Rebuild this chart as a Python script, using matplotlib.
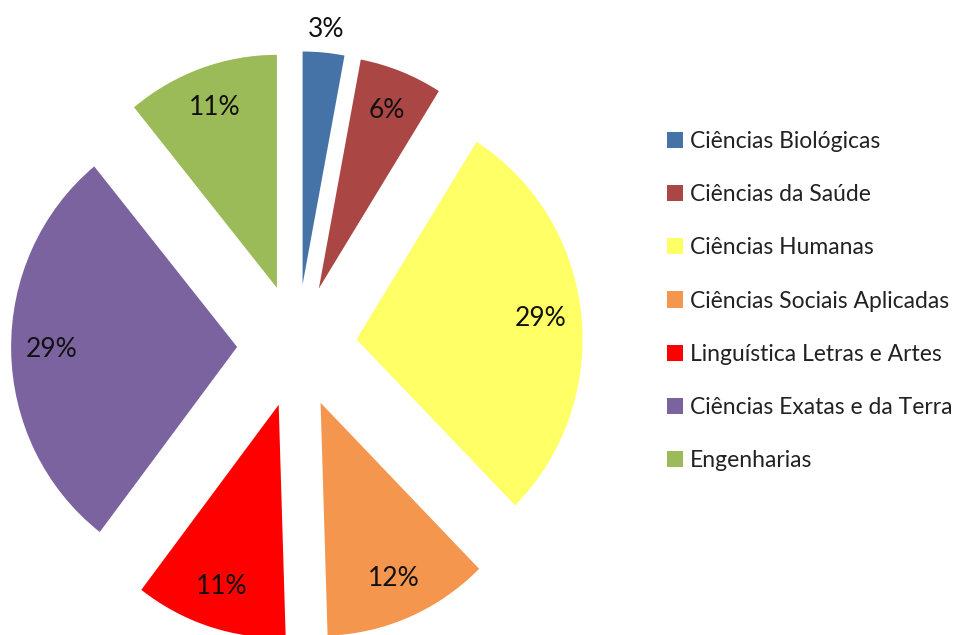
import matplotlib
matplotlib.use("Agg")
import matplotlib.pyplot as plt
import numpy as np

categories = ["Ciências Biológicas", "Ciências da Saúde", "Ciências Humanas",
              "Ciências Sociais Aplicadas", "Linguística Letras e Artes",
              "Ciências Exatas e da Terra", "Engenharias"]
values = [3, 6, 29, 12, 11, 29, 11]
colors = ["#4573A8", "#AA4643", "#FFFF66", "#F5964F", "#FF0000", "#7B63A0", "#9BBB59"]

plt.rcParams['font.family'] = ['Lato', 'DejaVu Sans']

W, H = 975, 635
fig = plt.figure(figsize=(W / 100, H / 100), dpi=100)
ax = fig.add_axes([0, 0, 1, 1])

cx, cy = 297, 346      # pixel centre of pie
rx, ry = 226, 233      # pixels per unit

wedges, texts, autotexts = ax.pie(
    values, colors=colors, startangle=90, counterclock=False,
    explode=[0.265] * len(values), radius=1.0,
    autopct=lambda p: f"{p * 1.01:.0f}%", pctdistance=0.82,
    textprops=dict(fontsize=19, color="#111111"),
    wedgeprops=dict(linewidth=0))

# first (small) slice label goes outside
w0 = wedges[0]
c0 = np.array(w0.center)
p0 = np.array(autotexts[0].get_position())
autotexts[0].set_position(tuple(c0 + (p0 - c0) * 1.10 / 0.82))

ax.set_aspect('auto')
ax.set_xlim((0 - cx) / rx, (W - cx) / rx)
ax.set_ylim((cy - H) / ry, cy / ry)
ax.axis('off')

leg = fig.legend(wedges, categories, loc='center left',
                 bbox_to_anchor=(667 / W, 1 - 301 / H), frameon=False,
                 fontsize=16.5, handlelength=0.70, handleheight=0.70,
                 handletextpad=0.3, labelspacing=1.40, borderpad=0,
                 borderaxespad=0)
for t in leg.get_texts():
    t.set_color("#222222")

fig.savefig("out.png", dpi=100)
